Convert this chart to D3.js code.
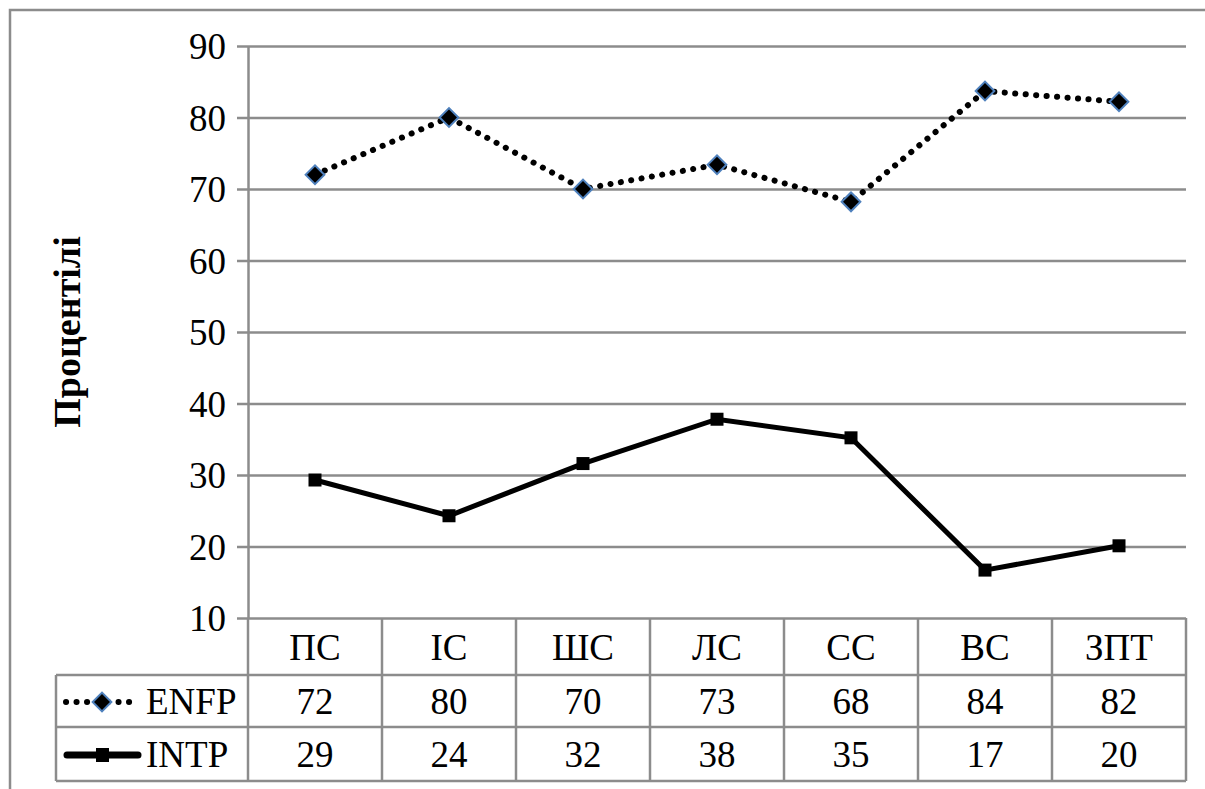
<!DOCTYPE html>
<html>
<head>
<meta charset="utf-8">
<script src="https://cdn.jsdelivr.net/npm/d3@7"></script>
<style>
body { margin: 0; background: #fff; }
svg text { font-family: "Liberation Serif", "Times New Roman", "DejaVu Serif", serif; }
</style>
</head>
<body>
<svg id="chart"></svg>
<script>
var width = 1205;
var height = 789;

// data
var categories = ["ПС", "ІС", "ШС", "ЛС", "СС", "ВС", "ЗПТ"];
var enfp = [72, 80, 70, 73.4, 68.2, 83.7, 82.2];
var intp = [29.3, 24.3, 31.6, 37.8, 35.2, 16.7, 20.1];
var seriesNames = ["ENFP", "INTP"];
var yTicks = [10, 20, 30, 40, 50, 60, 70, 80, 90];

var plotLeft = 248, plotRight = 1186, plotTop = 46, plotBottom = 618;
var rowH = [57, 52, 54];
var legendLeft = 56;
var fontSize = "37px";

var svg = d3.select("#chart")
	.attr("width", width)
	.attr("height", height);

// outer frame
svg.append("rect")
	.attr("x", 10)
	.attr("y", 10)
	.attr("width", width)
	.attr("height", height)
	.attr("fill", "none")
	.attr("stroke", "#8c8c8c")
	.attr("stroke-width", 2.5);

var x = d3.scaleBand()
	.domain(categories)
	.range([plotLeft, plotRight]);

var y = d3.scaleLinear()
	.domain([10, 90])
	.range([plotBottom, plotTop]);

var grey = "#8c8c8c";

// gridlines + ticks
var yAxis = d3.axisLeft(y)
	.tickValues(yTicks)
	.tickSize(-(plotRight - plotLeft))
	.tickSizeOuter(0)
	.tickPadding(22);

var yAxisGroup = svg.append("g")
	.attr("transform", "translate(" + plotLeft + ",0)")
	.call(yAxis)
	.attr("font-family", null)
	.attr("font-size", null);

yAxisGroup.select(".domain").attr("stroke", grey).attr("stroke-width", 2.5);
yAxisGroup.selectAll(".tick line")
	.attr("stroke", grey)
	.attr("stroke-width", 2.5)
	.attr("x1", -11);
yAxisGroup.selectAll(".tick text")
	.attr("fill", "#000")
	.attr("dy", "0.34em")
	.style("font-size", fontSize);

// y title
svg.append("text")
	.attr("transform", "translate(80," + ((plotTop + plotBottom) / 2) + ") rotate(-90)")
	.attr("text-anchor", "middle")
	.style("font-size", "38px")
	.style("font-weight", "bold")
	.text("Процентілі");

// data table
var rowTop = [plotBottom, plotBottom + rowH[0], plotBottom + rowH[0] + rowH[1]];
var tableBottom = rowTop[2] + rowH[2];
var table = svg.append("g");

table.append("line")
	.attr("x1", legendLeft).attr("x2", plotRight)
	.attr("y1", rowTop[1]).attr("y2", rowTop[1]);
table.append("line")
	.attr("x1", legendLeft).attr("x2", plotRight)
	.attr("y1", rowTop[2]).attr("y2", rowTop[2]);
table.append("line")
	.attr("x1", legendLeft).attr("x2", plotRight)
	.attr("y1", tableBottom).attr("y2", tableBottom);
table.append("line")
	.attr("x1", legendLeft).attr("x2", legendLeft)
	.attr("y1", rowTop[1]).attr("y2", tableBottom);
table.append("line")
	.attr("x1", plotRight).attr("x2", plotRight)
	.attr("y1", plotBottom).attr("y2", tableBottom);

table.selectAll(".col")
	.data(categories)
	.enter()
	.append("line")
	.attr("x1", d => x(d))
	.attr("x2", d => x(d))
	.attr("y1", plotBottom)
	.attr("y2", tableBottom);

table.selectAll("line")
	.attr("stroke", grey)
	.attr("stroke-width", 2.5);

table.selectAll(".cat")
	.data(categories)
	.enter()
	.append("text")
	.attr("x", d => x(d) + x.bandwidth() / 2)
	.attr("y", rowTop[0] + rowH[0] / 2 + 13)
	.attr("text-anchor", "middle")
	.style("font-size", fontSize)
	.text(d => d);

var seriesData = [enfp, intp];
seriesData.forEach(function (vals, i) {
	table.selectAll(".v" + i)
		.data(vals)
		.enter()
		.append("text")
		.attr("x", (d, j) => x(categories[j]) + x.bandwidth() / 2)
		.attr("y", rowTop[i + 1] + rowH[i + 1] / 2 + 13)
		.attr("text-anchor", "middle")
		.style("font-size", fontSize)
		.text(d => Math.round(d));

	table.append("text")
		.attr("x", 146)
		.attr("y", rowTop[i + 1] + rowH[i + 1] / 2 + 13)
		.style("font-size", fontSize)
		.text(seriesNames[i]);
});

// lines
var line = d3.line()
	.x((d, i) => x(categories[i]) + x.bandwidth() / 2)
	.y(d => y(d));

svg.append("path")
	.datum(enfp)
	.attr("fill", "none")
	.attr("stroke", "#000")
	.attr("stroke-width", 6)
	.attr("stroke-linecap", "round")
	.style("stroke-dasharray", "0.1, 10.4")
	.attr("d", line);

svg.append("path")
	.datum(intp)
	.attr("fill", "none")
	.attr("stroke", "#000")
	.attr("stroke-width", 5)
	.attr("d", line);

var diamond = d3.symbol().type(d3.symbolSquare).size(175);

svg.selectAll(".enfp")
	.data(enfp)
	.enter()
	.append("path")
	.attr("d", diamond)
	.attr("transform", (d, i) => "translate(" + (x(categories[i]) + x.bandwidth() / 2) + "," + y(d) + ") rotate(45)")
	.attr("fill", "#000")
	.attr("stroke", "#4f81bd")
	.attr("stroke-width", 2);

svg.selectAll(".intp")
	.data(intp)
	.enter()
	.append("rect")
	.attr("x", (d, i) => x(categories[i]) + x.bandwidth() / 2 - 6.5)
	.attr("y", d => y(d) - 6.5)
	.attr("width", 13)
	.attr("height", 13)
	.attr("fill", "#000");

// legend keys in the table
var keyY1 = rowTop[1] + rowH[1] / 2 + 1;
var keyY2 = rowTop[2] + rowH[2] / 2 + 1;

svg.append("line")
	.attr("x1", 66).attr("x2", 137)
	.attr("y1", keyY1).attr("y2", keyY1)
	.attr("stroke", "#000")
	.attr("stroke-width", 6)
	.attr("stroke-linecap", "round")
	.style("stroke-dasharray", "0.1, 10.4");
svg.append("path")
	.attr("d", diamond)
	.attr("transform", "translate(102," + keyY1 + ") rotate(45)")
	.attr("fill", "#000")
	.attr("stroke", "#4f81bd")
	.attr("stroke-width", 2);

svg.append("line")
	.attr("x1", 67).attr("x2", 138)
	.attr("y1", keyY2).attr("y2", keyY2)
	.attr("stroke", "#000")
	.attr("stroke-width", 7)
	.attr("stroke-linecap", "round");
svg.append("rect")
	.attr("x", 96).attr("y", keyY2 - 7)
	.attr("width", 13).attr("height", 14)
	.attr("fill", "#000");
</script>
</body>
</html>
